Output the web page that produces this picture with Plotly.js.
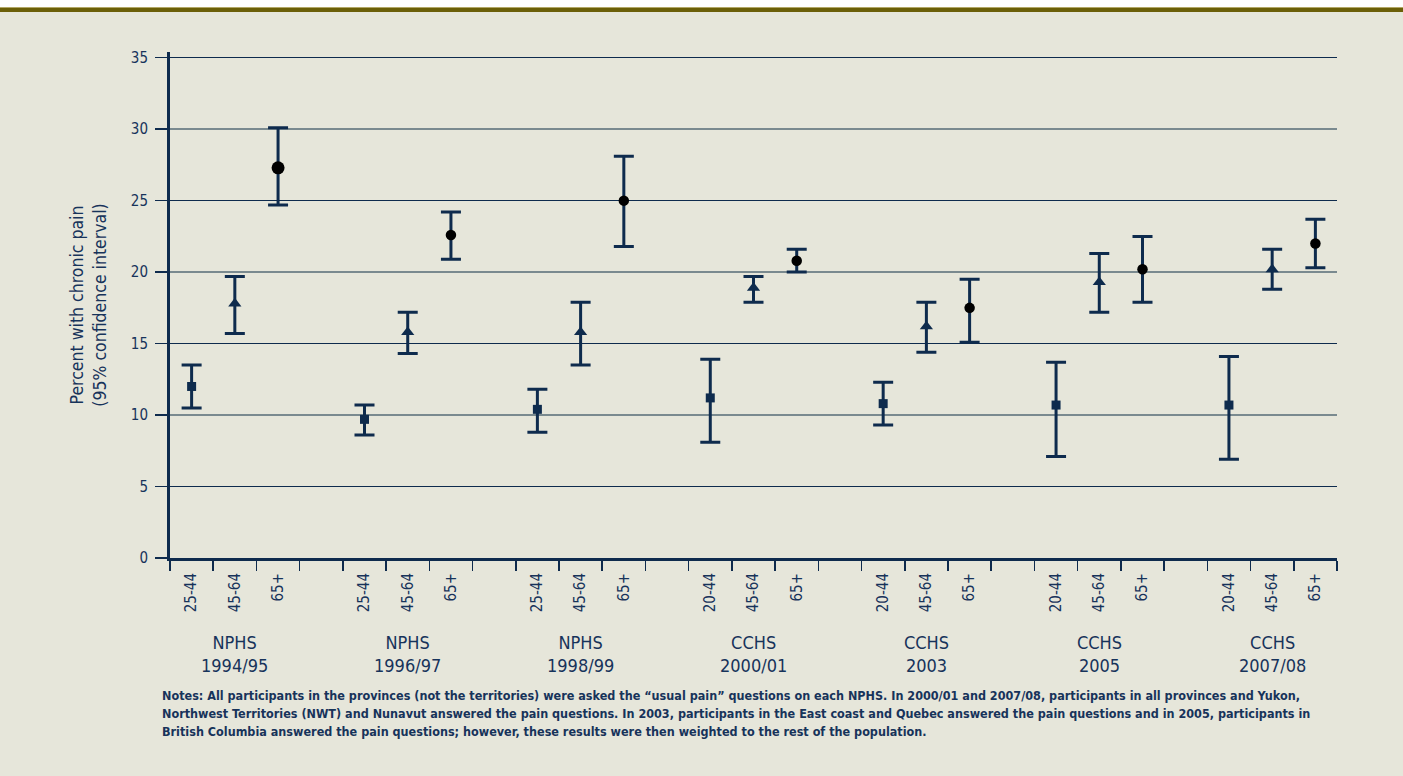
<!DOCTYPE html>
<html>
<head>
<meta charset="utf-8">
<script src="https://cdn.plot.ly/plotly-3.0.1.min.js"></script>
<style>
html,body{margin:0;padding:0;background:#e6e6da;}
#wrap{position:relative;width:1403px;height:776px;}
#chart{position:absolute;left:0;top:0;width:1403px;height:776px;}
#topwhite{position:absolute;left:0;top:0;width:1403px;height:7px;background:#ffffff;z-index:5;}
#topband{position:absolute;left:0;top:7px;width:1403px;height:5px;background:#6b5f08;z-index:5;border-top:1px solid #b3a866;box-sizing:border-box;}
</style>
</head>
<body>
<div id="wrap">
<div id="chart"></div>
<div id="topwhite"></div>
<div id="topband"></div>
</div>
<script>
// ---- data ----
const surveys = ["NPHS", "NPHS", "NPHS", "CCHS", "CCHS", "CCHS", "CCHS"];
const periods = ["1994/95", "1996/97", "1998/99", "2000/01", "2003", "2005", "2007/08"];
const youngLabels = ["25-44", "25-44", "25-44", "20-44", "20-44", "20-44", "20-44"];
const midLabel = "45-64";
const oldLabel = "65+";

const youngVal = [12.0, 9.7, 10.4, 11.2, 10.8, 10.7, 10.7];
const youngLo  = [10.5, 8.6, 8.8, 8.1, 9.3, 7.1, 6.9];
const youngHi  = [13.5, 10.7, 11.8, 13.9, 12.3, 13.7, 14.1];

const midVal = [17.8, 15.8, 15.8, 18.9, 16.2, 19.3, 20.2];
const midLo  = [15.7, 14.3, 13.5, 17.9, 14.4, 17.2, 18.8];
const midHi  = [19.7, 17.2, 17.9, 19.7, 17.9, 21.3, 21.6];

const oldVal = [27.3, 22.6, 25.0, 20.8, 17.5, 20.2, 22.0];
const oldLo  = [24.7, 20.9, 21.8, 20.0, 15.1, 17.9, 20.3];
const oldHi  = [30.1, 24.2, 28.1, 21.6, 19.5, 22.5, 23.7];

const yTicks = [0, 5, 10, 15, 20, 25, 30, 35];
const yTitle = "Percent with chronic pain<br>(95% confidence interval)";
const notesLines = [
  "Notes: All participants in the provinces (not the territories) were asked the \u201cusual pain\u201d questions on each NPHS. In 2000/01 and 2007/08, participants in all provinces and Yukon,",
  "Northwest Territories (NWT) and Nunavut answered the pain questions. In 2003, participants in the East coast and Quebec answered the pain questions and in 2005, participants in",
  "British Columbia answered the pain questions; however, these results were then weighted to the rest of the population."
];

// ---- layout helpers ----
const NAVY = "#0e2b4d";
const TEXT = "#17335a";
const GRAY = "#7a8a8f";
const FONT = "'DejaVu Sans Condensed', 'Liberation Sans', Arial, sans-serif";

const W = 1403, H = 776;
const M = {l: 170, r: 66, t: 52, b: 218};
const pw = W - M.l - M.r, ph = H - M.t - M.b;
const px = (p) => (p - M.l) / pw;          // pixel x -> paper
const py = (p) => (H - M.b - p) / ph;      // pixel y -> paper

const nG = surveys.length;
const pos = (g, a) => g * 4 + a;
const xs = (a) => surveys.map((_, g) => pos(g, a));

function trace(a, vals, lo, hi, symbol, size, color, yax) {
  return {
    type: "scatter", mode: "markers",
    x: xs(a), y: vals, yaxis: yax,
    marker: {symbol: symbol, size: size, color: color, opacity: 1, line: {width: 0}},
    error_y: {
      type: "data", symmetric: false,
      array: hi.map((h, i) => +(h - vals[i]).toFixed(3)),
      arrayminus: lo.map((l, i) => +(vals[i] - l).toFixed(3)),
      color: NAVY, thickness: 3, width: 10
    },
    hoverinfo: "y", showlegend: false
  };
}

const data = [
  trace(0, youngVal, youngLo, youngHi, "square", 9, NAVY, "y"),
  trace(1, midVal, midLo, midHi, "triangle-up", 11.5, NAVY, "y"),
  trace(2, oldVal, oldLo, oldHi, "circle", [13, 10.5, 10.5, 10.5, 10.5, 10.5, 10.5], "#000000", "y2")
];

const tickvals = [], ticktext = [];
surveys.forEach((_, g) => {
  tickvals.push(pos(g, 0), pos(g, 1), pos(g, 2));
  ticktext.push(youngLabels[g], midLabel, oldLabel);
});

const annotations = surveys.map((s, g) => ({
  x: pos(g, 1), xref: "x", y: py(654), yref: "paper",
  text: s + "<br>" + periods[g], showarrow: false,
  xanchor: "center", yanchor: "middle", align: "center",
  font: {family: FONT, size: 18, color: TEXT}
}));
notesLines.forEach((line, i) => {
  annotations.push({
    x: px(160), xref: "paper", y: py(695 + 18 * i), yref: "paper",
    text: line, showarrow: false, xanchor: "left", yanchor: "middle", align: "left",
    font: {family: FONT, size: 12.5, color: TEXT, weight: "bold"}
  });
});

const yRange = [0, 35.4];
const layout = {
  width: W, height: H,
  margin: M,
  paper_bgcolor: "#e6e6da",
  plot_bgcolor: "rgba(0,0,0,0)",
  font: {family: FONT, color: TEXT},
  xaxis: {
    range: [-0.5, nG * 4 - 1.5],
    tickmode: "array", tickvals: tickvals, ticktext: ticktext,
    tickangle: -90, ticks: "", ticklabelstandoff: 6,
    tickfont: {family: FONT, size: 15, color: TEXT},
    showline: true, linecolor: NAVY, linewidth: 3,
    showgrid: false, zeroline: false,
    minor: {tickmode: "linear", tick0: -0.5, dtick: 1, ticks: "outside",
            ticklen: 10, tickwidth: 1.5, tickcolor: NAVY, showgrid: false}
  },
  yaxis: {
    range: yRange,
    tickmode: "array", tickvals: [10, 20, 30],
    showticklabels: false, ticks: "",
    showgrid: true, gridcolor: GRAY, gridwidth: 2,
    minor: {tickmode: "array", tickvals: [5, 15, 25, 35], showgrid: true,
            gridcolor: NAVY, gridwidth: 1, ticks: ""},
    zeroline: false, showline: false
  },
  yaxis2: {
    overlaying: "y", anchor: "x", side: "left",
    range: yRange,
    tickmode: "array", tickvals: yTicks,
    ticks: "outside", ticklen: 12, tickwidth: 1.5, tickcolor: NAVY,
    ticklabelstandoff: 4,
    tickfont: {family: FONT, size: 15, color: TEXT},
    showgrid: false, zeroline: false,
    showline: true, linecolor: NAVY, linewidth: 3,
    title: {text: yTitle, standoff: 20, font: {family: FONT, size: 17.5, color: TEXT}}
  },
  annotations: annotations
};

Plotly.newPlot("chart", data, layout, {displayModeBar: false, staticPlot: true});
</script>
</body>
</html>
